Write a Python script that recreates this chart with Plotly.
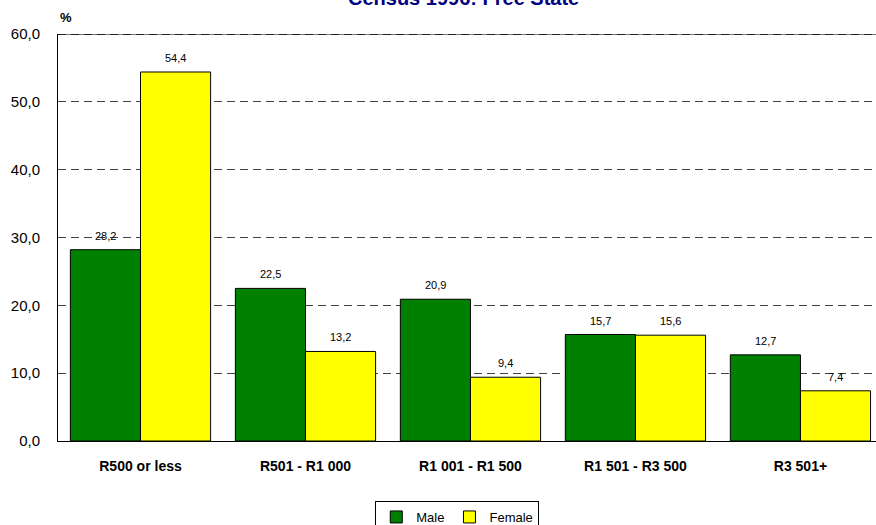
import plotly.graph_objects as go

categories = ["R500 or less", "R501 - R1 000", "R1 001 - R1 500", "R1 501 - R3 500", "R3 501+"]
male = [28.2, 22.5, 20.9, 15.7, 12.7]
female = [54.4, 13.2, 9.4, 15.6, 7.4]

def fmt(v):
    return f"{v:.1f}".replace(".", ",")

fig = go.Figure()
fig.add_trace(go.Bar(name="Male", x=categories, y=male, marker=dict(color="#008000", line=dict(color="black", width=1))))
fig.add_trace(go.Bar(name="Female", x=categories, y=female, marker=dict(color="#FFFF00", line=dict(color="black", width=1))))

# value labels, placed at each bar's centre via data coordinates
half = (1 - 0.15) / 4
labels = []
for i, (m, f) in enumerate(zip(male, female)):
    for off, v in ((-half, m), (half, f)):
        labels.append(dict(text=fmt(v), xref="x", yref="y", x=i + off, y=v, yshift=14,
                           xanchor="center", yanchor="middle", showarrow=False,
                           font=dict(size=11, color="black")))

fig.update_layout(
    width=876, height=525,
    margin=dict(l=58, r=0, t=34, b=84, autoexpand=False),
    paper_bgcolor="white", plot_bgcolor="white",
    barmode="group", bargap=0.15, bargroupgap=0,
    separators=",.",
    font=dict(family="Arial, Liberation Sans, sans-serif", color="black", size=14),
    showlegend=True,
    legend=dict(orientation="h", x=0.522, xref="container", xanchor="center", y=1 - 501 / 525, yref="container", yanchor="top",
                bordercolor="black", borderwidth=1, font=dict(size=13),
                itemwidth=30, tracegroupgap=0),
    xaxis=dict(range=[-0.5, 4.458], showline=True, linecolor="black", linewidth=1, automargin=False,
               tickfont=dict(size=14), ticks="", showgrid=False, ticklabelstandoff=12,
               tickmode="array", tickvals=list(range(5)),
               ticktext=[f"<b>{c}</b>" for c in categories]),
    yaxis=dict(range=[0, 60], dtick=10, tickformat=".1f", showline=True, linecolor="black", linewidth=1,
               automargin=False, ticklabelstandoff=14,
               showgrid=True, gridcolor="#404040", griddash="8px,5px", gridwidth=1,
               tickfont=dict(size=15), ticks="", zeroline=False),
    shapes=[dict(type="line", xref="paper", yref="y", x0=0, x1=1, y0=60, y1=60,
                 line=dict(color="#777777", width=2)),
            dict(type="line", xref="paper", yref="y", x0=0, x1=1, y0=60, y1=60,
                 line=dict(color="#222222", width=2, dash="8px,5px"))],
    annotations=[
        dict(text="<b>Census 1996: Free State</b>", xref="paper", yref="paper", x=0.496, y=443 / 407,
             xanchor="center", yanchor="middle", showarrow=False, font=dict(size=20, color="#000080")),
        dict(text="<b>%</b>", xref="paper", yref="paper", x=0.0, y=(441 - 18) / 407,
             xanchor="left", yanchor="middle", showarrow=False, font=dict(size=13, color="black")),
    ] + labels,
)
fig.write_html("out.html", config={"displayModeBar": False},
               post_script="document.body.style.margin='0';document.body.style.overflow='hidden';")
